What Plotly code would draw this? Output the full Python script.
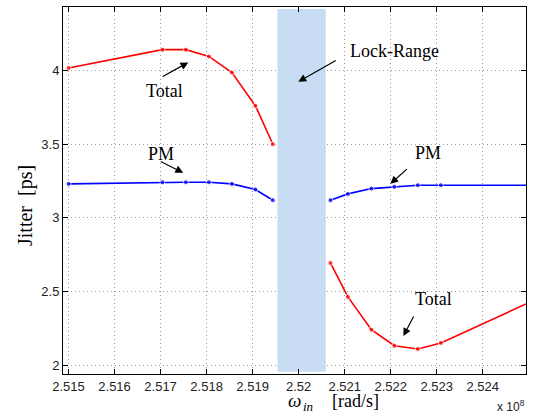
import plotly.graph_objects as go

# x in units of 1e8 rad/s
total_left_x = [2.51500, 2.51704, 2.51755, 2.51805, 2.51855, 2.51906, 2.51944]
total_left_y = [4.018, 4.143, 4.143, 4.097, 3.988, 3.762, 3.500]
pm_left_x = [2.51500, 2.51704, 2.51755, 2.51805, 2.51855, 2.51906, 2.51944]
pm_left_y = [3.231, 3.242, 3.242, 3.242, 3.231, 3.193, 3.120]

total_right_x = [2.52069, 2.52107, 2.52158, 2.52208, 2.52259, 2.52309, 2.52494]
total_right_y = [2.694, 2.463, 2.240, 2.131, 2.109, 2.150, 2.415]
pm_right_x = [2.52069, 2.52107, 2.52158, 2.52208, 2.52259, 2.52309, 2.52494]
pm_right_y = [3.120, 3.163, 3.199, 3.211, 3.222, 3.222, 3.222]

lock_range = [2.51954, 2.52059]

x_ticks = [2.515, 2.516, 2.517, 2.518, 2.519, 2.520, 2.521, 2.522, 2.523, 2.524]
x_tick_text = ["2.515", "2.516", "2.517", "2.518", "2.519", "2.52", "2.521", "2.522", "2.523", "2.524"]
y_ticks = [2, 2.5, 3, 3.5, 4]
y_tick_text = ["2", "2.5", "3", "3.5", "4"]

RED = "#ff0000"
BLUE = "#0000ff"

fig = go.Figure()

def add_series(xs, ys, color, hide_last=False):
    sizes = [5] * len(xs)
    if hide_last:
        sizes[-1] = 0
    fig.add_trace(go.Scatter(x=xs, y=ys, mode="lines+markers",
                             line=dict(color=color, width=1.6),
                             marker=dict(color=color, size=sizes),
                             showlegend=False))

add_series(total_left_x, total_left_y, RED)
add_series(pm_left_x, pm_left_y, BLUE)
add_series(total_right_x, total_right_y, RED, hide_last=True)
add_series(pm_right_x, pm_right_y, BLUE, hide_last=True)

fig.add_shape(type="rect", xref="x", yref="y",
              x0=lock_range[0], x1=lock_range[1], y0=1.954, y1=4.42,
              fillcolor="#c8dcf4", line=dict(width=0), layer="between")

serif = "Liberation Serif, Times New Roman, serif"
sans = "Liberation Sans, Arial, sans-serif"

texts = [
    ("Total", 2.51708, 3.864),
    ("PM", 2.51700, 3.4354),
    ("Lock-Range", 2.52208, 4.136),
    ("PM", 2.52282, 3.442),
    ("Total", 2.52293, 2.449),
]
for t, x, y in texts:
    fig.add_annotation(x=x, y=y, text=t, showarrow=False,
                       font=dict(family=serif, size=18, color="black"),
                       xanchor="center", yanchor="middle")

arrows = [
    (2.517602, 4.0565, -27, 15),
    (2.517493, 3.3061, -24, -12),
    (2.519993, 3.925, 39, -22),
    (2.521993, 3.2313, 18, -16),
    (2.522276, 2.197, 11, -21),
]
for x, y, ax, ay in arrows:
    fig.add_annotation(x=x, y=y, ax=ax, ay=ay, text="", showarrow=True,
                       arrowhead=2, arrowsize=1.3, arrowwidth=1.2,
                       arrowcolor="black")

W = 463
# x-axis label split into pieces: omega, subscript, unit
x_label_parts = [
    ("<i>ω</i>", 294, 19, 0),
    ("<i>in</i>", 308, 13, 3),
    ("[rad/s]", 355, 18, 0),
]
for txt, px, fs, drop in x_label_parts:
    fig.add_annotation(xref="paper", yref="paper", x=(px - 63) / W, y=0,
                       text=txt, showarrow=False, borderpad=0,
                       font=dict(family=serif, size=fs, color="black"),
                       xanchor="center", yanchor="bottom",
                       yshift=-(415 - 374) - drop + 3)
fig.add_annotation(xref="paper", yref="paper", x=(511 - 63) / W, y=0,
                   text="x 10<sup>8</sup>", showarrow=False,
                   font=dict(family=sans, size=12, color="#222"),
                   xanchor="center", yanchor="middle", yshift=-(406 - 374))
fig.add_annotation(xref="paper", yref="paper", x=0, y=(374 - 206) / 367,
                   text="Jitter  [ps]", showarrow=False, textangle=-90,
                   font=dict(family=serif, size=20, color="black"),
                   xanchor="center", yanchor="middle", xshift=-(63 - 25))

axis_common = dict(showline=True, linecolor="black", linewidth=1, mirror="ticks",
                   ticks="inside", ticklen=5, tickcolor="black",
                   showgrid=True, gridcolor="#9a9a9a", griddash="1px,3px", gridwidth=1,
                   zeroline=False,
                   tickfont=dict(family=sans, size=13, color="#222"))

fig.update_xaxes(range=[2.51488, 2.52494], tickvals=x_ticks, ticktext=x_tick_text, **axis_common)
fig.update_yaxes(range=[1.939, 4.433], tickvals=y_ticks, ticktext=y_tick_text, **axis_common)

fig.update_layout(width=536, height=416, margin=dict(l=63, r=10, t=7, b=42),
                  plot_bgcolor="white", paper_bgcolor="white")

fig.write_html("out.html")
